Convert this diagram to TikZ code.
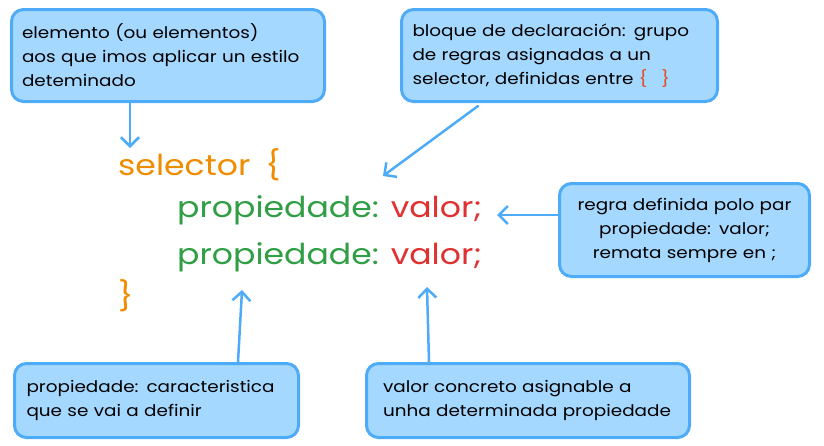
\documentclass[tikz,border=0pt]{standalone}
\usepackage{fontspec}
\setmainfont{Poppins}[FakeStretch=1.15]
\definecolor{noteblue}{RGB}{165, 216, 255}
\definecolor{edgeblue}{RGB}{77, 171, 247}
\definecolor{selorange}{RGB}{240, 140, 0}
\definecolor{propgreen}{RGB}{47, 158, 68}
\definecolor{valred}{RGB}{224, 49, 49}
\usepackage{tikz}
\usetikzlibrary{arrows.meta, positioning, calc}

\tikzset{
  notebox/.style={draw=edgeblue, fill=noteblue, line width=3pt, rounded corners=12pt, inner sep=0pt, font=\fontsize{16}{24}\selectfont},
  pointer/.style={draw=edgeblue, line width=2.5pt, line cap=round, -{Straight Barb[length=9pt, width=18pt]}},
  codeline/.style={anchor=west, inner sep=0pt, font=\fontsize{28.8}{34}\selectfont}
}

\begin{document}
\begin{tikzpicture}[x=1pt, y=-1pt]
  \useasboundingbox (0,0) rectangle (824,445);

  % CSS rule
  \node[codeline, text=selorange] (sel) at (118,165) {selector\hspace{6pt} \{};
  \node[codeline] (prop1) at (177,210) {\textcolor{propgreen}{propiedade:} \textcolor{valred}{valor;}};
  \node[codeline] (prop2) at (177,257) {\textcolor{propgreen}{propiedade:} \textcolor{valred}{valor;}};
  \node[codeline, text=selorange] (close) at (118,296) {\}};

  % Notes
  \node[notebox, minimum width=313, minimum height=92, text width=292, align=left, anchor=north west] (selnote) at (10,8) {
    elemento (ou elementos)\\
    aos que imos aplicar un estilo\\
    deteminado
  };
  \node[notebox, minimum width=316, minimum height=92, text width=294, align=left, anchor=north west] (blocknote) at (400,8) {
    bloque de declaración: grupo\\
    de regras asignadas a un\\
    selector, definidas entre \textcolor{valred!70!selorange}{\{\hspace{14pt}\}}
  };
  \node[notebox, minimum width=250, minimum height=93, text width=240, align=center, anchor=north west] (rulenote) at (558,182) {
    regra definida polo par\\
    propiedade: valor;\\
    remata sempre en ;
  };
  \node[notebox, minimum width=284, minimum height=74, text width=260, align=left, anchor=north west] (propnote) at (13,362) {
    propiedade: caracteristica\\
    que se vai a definir
  };
  \node[notebox, minimum width=323, minimum height=74, text width=290, align=left, anchor=north west] (valnote) at (365,362) {
    valor concreto asignable a\\
    unha determinada propiedade
  };

  % Pointers
  \coordinate (selend) at (130,148);
  \coordinate (blockend) at (383,176);
  \coordinate (ruleend) at (497,215);
  \coordinate (propend) at (242,290);
  \coordinate (valend) at (427,287);

  \draw[pointer] (selnote.south -| selend) -- (selend);
  \draw[pointer] ($(blocknote.south west)+(78,3)$) -- (blockend);
  \draw[pointer] (rulenote.west |- ruleend) -- (ruleend);
  \draw[pointer] ($(propnote.north west)+(225,0)$) -- (propend);
  \draw[pointer] ($(valnote.north west)+(64,0)$) -- (valend);
\end{tikzpicture}
\end{document}
